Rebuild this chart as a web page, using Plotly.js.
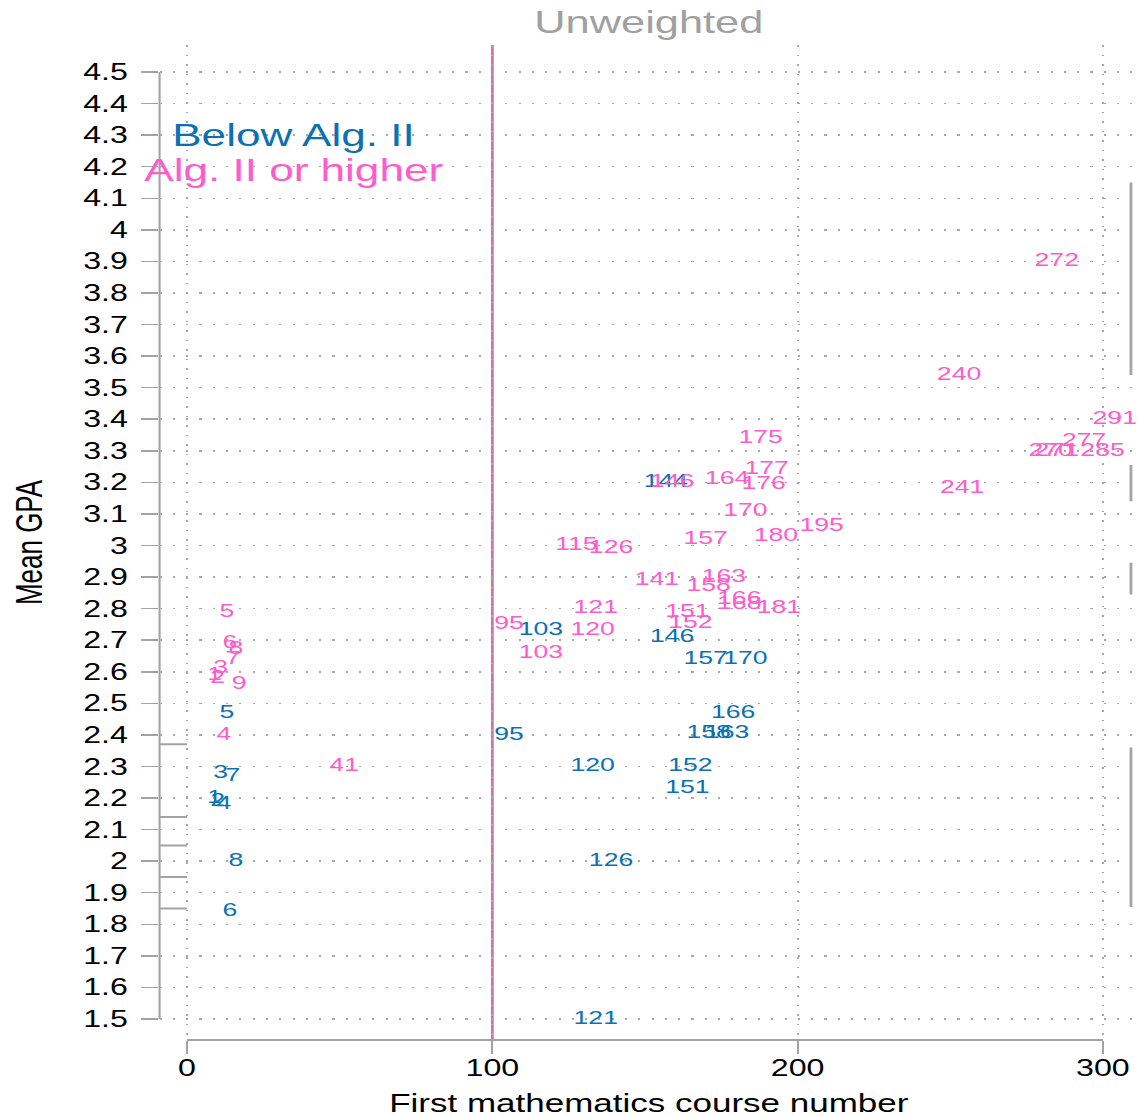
<!DOCTYPE html>
<html><head><meta charset="utf-8">
<script src="https://cdn.plot.ly/plotly-3.0.1.min.js"></script>
<style>
html,body{margin:0;padding:0;overflow:hidden;background:#fff;}
#chart{width:813px;height:1117px;transform:scaleX(1.39975);transform-origin:0 0;}
</style></head>
<body><div id="chart"></div>
<script>
// ---- data: Below Alg. II (blue) ----
const blueX   = [144, 103, 146, 157, 170, 166, 158, 164, 95, 120, 152, 151, 126, 121, 5, 3, 7, 1, 2, 4, 8, 6];
const blueY   = [3.20, 2.73, 2.71, 2.64, 2.64, 2.47, 2.405, 2.405, 2.40, 2.30, 2.30, 2.23, 2.00, 1.50, 2.47, 2.28, 2.27, 2.20, 2.19, 2.18, 2.00, 1.84];
const blueLbl = ['144','103','146','157','170','166','158','163','95','120','152','151','126','121','5','3','7','1','2','4','8','6'];

// ---- data: Alg. II or higher (pink) ----
const pinkX   = [272, 240, 291, 281, 270, 272, 287, 175, 164, 177, 176, 146, 170, 195, 180, 157, 115, 126, 241, 141, 163, 158, 168, 168, 181, 151, 152, 121, 120, 95, 103, 41, 5, 6, 8, 7, 3, 1, 2, 9, 4];
const pinkY   = [3.90, 3.54, 3.40, 3.33, 3.30, 3.30, 3.30, 3.34, 3.21, 3.24, 3.195, 3.20, 3.11, 3.06, 3.03, 3.02, 3.00, 2.99, 3.18, 2.89, 2.90, 2.87, 2.83, 2.815, 2.80, 2.79, 2.755, 2.80, 2.73, 2.75, 2.66, 2.30, 2.79, 2.69, 2.67, 2.64, 2.61, 2.59, 2.58, 2.56, 2.40];
const pinkLbl = ['272','240','291','277','270','271','285','175','164','177','176','146','170','195','180','157','115','126','241','141','163','158','166','168','181','151','152','121','120','95','103','41','5','6','8','7','3','1','2','9','4'];

// ---- axes ----
const xTickVals = [0, 100, 200, 300];
const xTickText = ['0', '100', '200', '300'];
const yTickVals = [1.5,1.6,1.7,1.8,1.9,2.0,2.1,2.2,2.3,2.4,2.5,2.6,2.7,2.8,2.9,3.0,3.1,3.2,3.3,3.4,3.5,3.6,3.7,3.8,3.9,4.0,4.1,4.2,4.3,4.4,4.5];
const yTickText = ['1.5','1.6','1.7','1.8','1.9','2','2.1','2.2','2.3','2.4','2.5','2.6','2.7','2.8','2.9','3','3.1','3.2','3.3','3.4','3.5','3.6','3.7','3.8','3.9','4','4.1','4.2','4.3','4.4','4.5'];

// ---- reference line and legend text ----
const cutoff = 100;
const groupNames = ['Below Alg. II', 'Alg. II or higher'];
const groupLabelX = 35;
const groupLabelY = [4.30, 4.19];

// ---- marginal rug segments ----
const leftRugY = [2.37, 2.14, 2.05, 1.95, 1.85];
const leftRugX0 = [-9, -9, -9, -9, -10.6];
const rightRugX = 309.2;
const rightRugY0 = [4.15, 3.255, 2.945, 2.36];
const rightRugY1 = [3.54, 3.14, 2.845, 1.855];

const BLUE = '#0b71b3';
const PINK = '#ff5ccb';
const GRAY = '#a3a3a3';
const FONT = 'Liberation Sans, Arial, sans-serif';

function labelTrace(x, y, t, color) {
  return {
    type: 'scatter', mode: 'markers+text', x: x, y: y, text: t,
    textposition: 'middle right',
    textfont: {family: FONT, size: 19, color: color},
    marker: {size: 18, color: 'rgba(0,0,0,0)'},
    cliponaxis: false, showlegend: false, hoverinfo: 'skip'
  };
}

const traces = [labelTrace(blueX, blueY, blueLbl, BLUE), labelTrace(pinkX, pinkY, pinkLbl, PINK)];

const shapes = [
  {type:'line', layer:'below', xref:'x', yref:'paper', x0:cutoff, x1:cutoff, y0:0, y1:1, line:{color:'#d472a5', width:2}},
  {type:'line', xref:'paper', yref:'y', x0:0, x1:0, y0:yTickVals[0], y1:yTickVals[yTickVals.length-1], line:{color:GRAY, width:1.5}},
  {type:'line', xref:'x', yref:'paper', x0:xTickVals[0], x1:xTickVals[xTickVals.length-1], y0:0, y1:0, line:{color:GRAY, width:2}}
];
leftRugY.forEach((v, i) => shapes.push({type:'line', xref:'x', yref:'y', x0:leftRugX0[i], x1:0, y0:v, y1:v, line:{color:GRAY, width:2}}));
rightRugY0.forEach((v, i) => shapes.push({type:'line', xref:'x', yref:'y', x0:rightRugX, x1:rightRugX, y0:v, y1:rightRugY1[i], line:{color:GRAY, width:2}}));

const annotations = groupNames.map((n, i) => ({
  xref:'x', yref:'y', x:groupLabelX, y:groupLabelY[i], text:n, showarrow:false,
  xanchor:'center', yanchor:'middle', font:{family:FONT, size:31.5, color: i === 0 ? BLUE : PINK}
}));

const layout = {
  width: 813, height: 1117,
  margin: {l: 114, r: 0, t: 45, b: 77},
  paper_bgcolor: '#fff', plot_bgcolor: '#fff',
  font: {family: FONT, color: '#000'},
  showlegend: false,
  title: {text: 'Unweighted', font: {family: FONT, size: 31, color: '#a0a0a0'},
          xref: 'paper', x: 0.5, xanchor: 'center', yref: 'container', y: 1 - 22/1117, yanchor: 'middle'},
  xaxis: {
    range: [-9, 311.5], tickvals: xTickVals, ticktext: xTickText,
    ticks: 'outside', ticklen: 13, tickwidth: 1.5, tickcolor: GRAY,
    showline: false, zeroline: false,
    showgrid: true, gridcolor: '#a8a8a8', gridwidth: 1.5, griddash: '1.5px,8px',
    tickfont: {family: FONT, size: 23, color: '#000'},
    ticklabelstandoff: -6,
    title: {text: 'First mathematics course number', font: {family: FONT, size: 25, color: '#000'}, standoff: 20}
  },
  yaxis: {
    range: [1.4335, 4.5855], tickvals: yTickVals, ticktext: yTickText,
    ticks: 'outside', ticklen: 12, tickwidth: 1.5, tickcolor: GRAY,
    showline: false, zeroline: false,
    showgrid: true, gridcolor: '#a8a8a8', gridwidth: 1.5, griddash: '1.5px,8px',
    tickfont: {family: FONT, size: 23, color: '#000'},
    ticklabelstandoff: 5,
    title: {text: 'Mean GPA', font: {family: FONT, size: 26, color: '#000'}, standoff: 21}
  },
  shapes: shapes,
  annotations: annotations
};

Plotly.newPlot('chart', traces, layout, {displayModeBar: false, staticPlot: true});
</script>
</body></html>
